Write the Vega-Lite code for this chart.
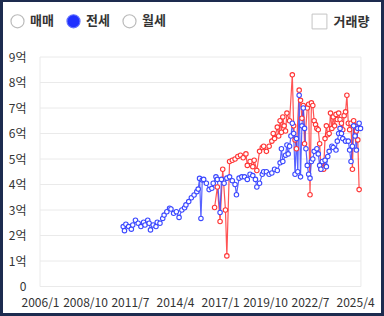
{
  "$schema": "https://vega.github.io/schema/vega-lite/v6.json",
  "width": 378,
  "height": 311,
  "autosize": "none",
  "padding": {"left": 3, "top": 2, "right": 3, "bottom": 3},
  "background": "#1d2b4f",
  "view": {"fill": "#ffffff", "stroke": null},
  "config": {"font": "Noto Sans CJK KR",
    "axisY": {"labelOverlap": false, "tickCount": 10},
    "axisX": {"labelOverlap": false}},
  "layer": [
    {
      "data": {"values": [{"g": 0}, {"g": 1}, {"g": 2}, {"g": 3}, {"g": 4}, {"g": 5}, {"g": 6}, {"g": 7}, {"g": 8}, {"g": 9}]},
      "mark": {"type": "rule", "color": "#eaeaea", "strokeWidth": 1},
      "encoding": {
        "y": {"field": "g", "type": "quantitative", "title": null,
          "scale": {"domain": [-1.039, 11.157], "nice": false, "zero": false},
          "axis": {"values": [0, 1, 2, 3, 4, 5, 6, 7, 8, 9], "labelExpr": "datum.value == 0 ? '0' : datum.value + '억'", "offset": -37, "domain": false, "ticks": false, "grid": false, "labelPadding": 14, "labelFontSize": 12, "labelColor": "#333333", "labelFont": "Noto Sans CJK KR", "labelOverlap": false, "labelBound": false}},
        "x": {"datum": {"year": 2006, "month": 1, "date": 1}, "type": "temporal", "title": null,
          "scale": {"type": "time", "domain": [{"year": 2003, "month": 9, "date": 28}, {"year": 2026, "month": 11, "date": 1}]},
          "axis": {"values": [{"year": 2006, "month": 1, "date": 1}, {"year": 2008, "month": 10, "date": 1}, {"year": 2011, "month": 7, "date": 1}, {"year": 2014, "month": 4, "date": 1}, {"year": 2017, "month": 1, "date": 1}, {"year": 2019, "month": 10, "date": 1}, {"year": 2022, "month": 7, "date": 1}, {"year": 2025, "month": 4, "date": 1}], "format": "%Y/%-m", "offset": -26.5, "domain": false, "ticks": false, "grid": false, "labelPadding": 11, "labelFontSize": 12, "labelColor": "#333333", "labelFont": "Noto Sans CJK KR", "labelOverlap": false, "labelFlush": false}},
        "x2": {"datum": {"year": 2025, "month": 8, "date": 10}}
      }
    },
    {
      "data": {"values": [{"e": "2006-01-01"}, {"e": "2025-08-10"}], "format": {"parse": {"e": "date:'%Y-%m-%d'"}}},
      "mark": {"type": "rule", "color": "#eaeaea", "strokeWidth": 1},
      "encoding": {
        "x": {"field": "e", "type": "temporal", "title": null},
        "y": {"datum": 0, "type": "quantitative", "title": null,
          "axis": {"values": [0, 1, 2, 3, 4, 5, 6, 7, 8, 9], "labelExpr": "datum.value == 0 ? '0' : datum.value + '억'", "offset": -37, "domain": false, "ticks": false, "grid": false, "labelPadding": 14, "labelFontSize": 12, "labelColor": "#333333", "labelFont": "Noto Sans CJK KR", "labelOverlap": false, "labelBound": false}},
        "y2": {"datum": 9}
      }
    },
    {
      "data": {"values": [
        {"d": "2016-09", "t": "매매", "v": 3.1},
        {"d": "2016-11", "t": "매매", "v": 3.9},
        {"d": "2017-01", "t": "매매", "v": 2.55},
        {"d": "2017-03", "t": "매매", "v": 4.6},
        {"d": "2017-05", "t": "매매", "v": 3.0},
        {"d": "2017-06", "t": "매매", "v": 1.2},
        {"d": "2017-08", "t": "매매", "v": 4.9},
        {"d": "2017-10", "t": "매매", "v": 4.95},
        {"d": "2017-12", "t": "매매", "v": 5.0},
        {"d": "2018-02", "t": "매매", "v": 5.1},
        {"d": "2018-04", "t": "매매", "v": 5.15},
        {"d": "2018-06", "t": "매매", "v": 5.05},
        {"d": "2018-08", "t": "매매", "v": 5.2},
        {"d": "2018-09", "t": "매매", "v": 4.75},
        {"d": "2018-11", "t": "매매", "v": 4.9},
        {"d": "2019-01", "t": "매매", "v": 4.7},
        {"d": "2019-02", "t": "매매", "v": 4.95},
        {"d": "2019-04", "t": "매매", "v": 4.55},
        {"d": "2019-06", "t": "매매", "v": 5.3},
        {"d": "2019-08", "t": "매매", "v": 5.45},
        {"d": "2019-09", "t": "매매", "v": 5.5},
        {"d": "2019-11", "t": "매매", "v": 5.3},
        {"d": "2020-01", "t": "매매", "v": 5.5},
        {"d": "2020-03", "t": "매매", "v": 5.7},
        {"d": "2020-04", "t": "매매", "v": 6.0},
        {"d": "2020-05", "t": "매매", "v": 5.8},
        {"d": "2020-07", "t": "매매", "v": 6.25},
        {"d": "2020-08", "t": "매매", "v": 5.9},
        {"d": "2020-09", "t": "매매", "v": 6.5},
        {"d": "2020-10", "t": "매매", "v": 6.05},
        {"d": "2020-11", "t": "매매", "v": 6.65},
        {"d": "2020-12", "t": "매매", "v": 6.3},
        {"d": "2021-01", "t": "매매", "v": 6.1},
        {"d": "2021-02", "t": "매매", "v": 6.8},
        {"d": "2021-04", "t": "매매", "v": 6.5},
        {"d": "2021-06", "t": "매매", "v": 8.3},
        {"d": "2021-07", "t": "매매", "v": 6.3},
        {"d": "2021-08", "t": "매매", "v": 5.75},
        {"d": "2021-09", "t": "매매", "v": 5.4},
        {"d": "2021-11", "t": "매매", "v": 7.7},
        {"d": "2021-12", "t": "매매", "v": 7.3},
        {"d": "2022-01", "t": "매매", "v": 6.6},
        {"d": "2022-02", "t": "매매", "v": 7.1},
        {"d": "2022-03", "t": "매매", "v": 5.6},
        {"d": "2022-05", "t": "매매", "v": 7.0},
        {"d": "2022-06", "t": "매매", "v": 7.15},
        {"d": "2022-07", "t": "매매", "v": 3.6},
        {"d": "2022-08", "t": "매매", "v": 7.2},
        {"d": "2022-09", "t": "매매", "v": 7.1},
        {"d": "2022-10", "t": "매매", "v": 6.5},
        {"d": "2022-11", "t": "매매", "v": 6.35},
        {"d": "2022-12", "t": "매매", "v": 6.2},
        {"d": "2023-01", "t": "매매", "v": 6.15},
        {"d": "2023-02", "t": "매매", "v": 5.6},
        {"d": "2023-03", "t": "매매", "v": 4.6},
        {"d": "2023-04", "t": "매매", "v": 4.85},
        {"d": "2023-05", "t": "매매", "v": 4.6},
        {"d": "2023-06", "t": "매매", "v": 5.8},
        {"d": "2023-07", "t": "매매", "v": 6.3},
        {"d": "2023-08", "t": "매매", "v": 5.95},
        {"d": "2023-09", "t": "매매", "v": 6.0},
        {"d": "2023-10", "t": "매매", "v": 6.8},
        {"d": "2023-11", "t": "매매", "v": 6.2},
        {"d": "2023-12", "t": "매매", "v": 6.65},
        {"d": "2024-01", "t": "매매", "v": 6.3},
        {"d": "2024-02", "t": "매매", "v": 6.75},
        {"d": "2024-03", "t": "매매", "v": 6.55},
        {"d": "2024-04", "t": "매매", "v": 6.8},
        {"d": "2024-05", "t": "매매", "v": 6.55},
        {"d": "2024-06", "t": "매매", "v": 6.4},
        {"d": "2024-07", "t": "매매", "v": 6.15},
        {"d": "2024-08", "t": "매매", "v": 6.7},
        {"d": "2024-09", "t": "매매", "v": 6.85},
        {"d": "2024-10", "t": "매매", "v": 7.5},
        {"d": "2024-11", "t": "매매", "v": 6.4},
        {"d": "2024-12", "t": "매매", "v": 6.15},
        {"d": "2025-01", "t": "매매", "v": 6.4},
        {"d": "2025-02", "t": "매매", "v": 4.6},
        {"d": "2025-03", "t": "매매", "v": 6.5},
        {"d": "2025-04", "t": "매매", "v": 6.3},
        {"d": "2025-05", "t": "매매", "v": 6.1},
        {"d": "2025-06", "t": "매매", "v": 5.75},
        {"d": "2025-07", "t": "매매", "v": 3.8},
        {"d": "2011-02", "t": "전세", "v": 2.35},
        {"d": "2011-03", "t": "전세", "v": 2.19},
        {"d": "2011-04", "t": "전세", "v": 2.44},
        {"d": "2011-06", "t": "전세", "v": 2.35},
        {"d": "2011-08", "t": "전세", "v": 2.25},
        {"d": "2011-09", "t": "전세", "v": 2.41},
        {"d": "2011-11", "t": "전세", "v": 2.6},
        {"d": "2012-01", "t": "전세", "v": 2.48},
        {"d": "2012-03", "t": "전세", "v": 2.35},
        {"d": "2012-05", "t": "전세", "v": 2.52},
        {"d": "2012-06", "t": "전세", "v": 2.41},
        {"d": "2012-08", "t": "전세", "v": 2.6},
        {"d": "2012-09", "t": "전세", "v": 2.48},
        {"d": "2012-10", "t": "전세", "v": 2.22},
        {"d": "2012-12", "t": "전세", "v": 2.41},
        {"d": "2013-02", "t": "전세", "v": 2.35},
        {"d": "2013-03", "t": "전세", "v": 2.52},
        {"d": "2013-05", "t": "전세", "v": 2.48},
        {"d": "2013-07", "t": "전세", "v": 2.67},
        {"d": "2013-08", "t": "전세", "v": 2.8},
        {"d": "2013-10", "t": "전세", "v": 2.93},
        {"d": "2013-12", "t": "전세", "v": 3.07},
        {"d": "2014-01", "t": "전세", "v": 3.04},
        {"d": "2014-03", "t": "전세", "v": 2.87},
        {"d": "2014-05", "t": "전세", "v": 2.93},
        {"d": "2014-07", "t": "전세", "v": 2.71},
        {"d": "2014-09", "t": "전세", "v": 3.0},
        {"d": "2014-11", "t": "전세", "v": 3.09},
        {"d": "2014-12", "t": "전세", "v": 3.2},
        {"d": "2015-02", "t": "전세", "v": 3.33},
        {"d": "2015-04", "t": "전세", "v": 3.48},
        {"d": "2015-06", "t": "전세", "v": 3.59},
        {"d": "2015-08", "t": "전세", "v": 3.72},
        {"d": "2015-09", "t": "전세", "v": 3.82},
        {"d": "2015-10", "t": "전세", "v": 4.24},
        {"d": "2015-11", "t": "전세", "v": 2.67},
        {"d": "2015-12", "t": "전세", "v": 4.18},
        {"d": "2016-01", "t": "전세", "v": 4.2},
        {"d": "2016-03", "t": "전세", "v": 4.05},
        {"d": "2016-05", "t": "전세", "v": 3.8},
        {"d": "2016-07", "t": "전세", "v": 3.85},
        {"d": "2016-08", "t": "전세", "v": 4.05},
        {"d": "2016-10", "t": "전세", "v": 4.3},
        {"d": "2016-11", "t": "전세", "v": 4.2},
        {"d": "2017-01", "t": "전세", "v": 2.9},
        {"d": "2017-02", "t": "전세", "v": 4.2},
        {"d": "2017-04", "t": "전세", "v": 4.05},
        {"d": "2017-06", "t": "전세", "v": 4.25},
        {"d": "2017-08", "t": "전세", "v": 4.3},
        {"d": "2017-10", "t": "전세", "v": 4.15},
        {"d": "2017-12", "t": "전세", "v": 4.0},
        {"d": "2018-01", "t": "전세", "v": 3.6},
        {"d": "2018-03", "t": "전세", "v": 4.25},
        {"d": "2018-05", "t": "전세", "v": 4.3},
        {"d": "2018-07", "t": "전세", "v": 4.3},
        {"d": "2018-09", "t": "전세", "v": 4.2},
        {"d": "2018-11", "t": "전세", "v": 4.4},
        {"d": "2019-01", "t": "전세", "v": 4.35},
        {"d": "2019-03", "t": "전세", "v": 4.2},
        {"d": "2019-04", "t": "전세", "v": 3.9},
        {"d": "2019-06", "t": "전세", "v": 4.05},
        {"d": "2019-08", "t": "전세", "v": 4.4},
        {"d": "2019-09", "t": "전세", "v": 4.5},
        {"d": "2019-11", "t": "전세", "v": 4.5},
        {"d": "2020-01", "t": "전세", "v": 4.4},
        {"d": "2020-03", "t": "전세", "v": 4.45},
        {"d": "2020-05", "t": "전세", "v": 4.6},
        {"d": "2020-07", "t": "전세", "v": 4.55},
        {"d": "2020-09", "t": "전세", "v": 4.85},
        {"d": "2020-10", "t": "전세", "v": 5.4},
        {"d": "2020-11", "t": "전세", "v": 4.9},
        {"d": "2021-01", "t": "전세", "v": 5.15},
        {"d": "2021-02", "t": "전세", "v": 5.55},
        {"d": "2021-03", "t": "전세", "v": 5.2},
        {"d": "2021-04", "t": "전세", "v": 5.5},
        {"d": "2021-05", "t": "전세", "v": 5.9},
        {"d": "2021-06", "t": "전세", "v": 6.4},
        {"d": "2021-07", "t": "전세", "v": 6.0},
        {"d": "2021-08", "t": "전세", "v": 4.4},
        {"d": "2021-09", "t": "전세", "v": 5.8},
        {"d": "2021-10", "t": "전세", "v": 4.5},
        {"d": "2021-11", "t": "전세", "v": 7.5},
        {"d": "2021-12", "t": "전세", "v": 4.3},
        {"d": "2022-01", "t": "전세", "v": 6.3},
        {"d": "2022-02", "t": "전세", "v": 7.0},
        {"d": "2022-03", "t": "전세", "v": 6.2},
        {"d": "2022-04", "t": "전세", "v": 5.4},
        {"d": "2022-05", "t": "전세", "v": 4.75},
        {"d": "2022-06", "t": "전세", "v": 4.4},
        {"d": "2022-07", "t": "전세", "v": 4.25},
        {"d": "2022-08", "t": "전세", "v": 4.9},
        {"d": "2022-09", "t": "전세", "v": 5.0},
        {"d": "2022-10", "t": "전세", "v": 5.3},
        {"d": "2022-12", "t": "전세", "v": 5.4},
        {"d": "2023-01", "t": "전세", "v": 5.2},
        {"d": "2023-02", "t": "전세", "v": 4.75},
        {"d": "2023-03", "t": "전세", "v": 4.6},
        {"d": "2023-04", "t": "전세", "v": 4.9},
        {"d": "2023-06", "t": "전세", "v": 4.95},
        {"d": "2023-07", "t": "전세", "v": 4.7},
        {"d": "2023-08", "t": "전세", "v": 5.1},
        {"d": "2023-09", "t": "전세", "v": 5.3},
        {"d": "2023-11", "t": "전세", "v": 5.5},
        {"d": "2023-12", "t": "전세", "v": 5.45},
        {"d": "2024-02", "t": "전세", "v": 5.35},
        {"d": "2024-03", "t": "전세", "v": 5.7},
        {"d": "2024-04", "t": "전세", "v": 6.0},
        {"d": "2024-05", "t": "전세", "v": 6.2},
        {"d": "2024-06", "t": "전세", "v": 6.0},
        {"d": "2024-07", "t": "전세", "v": 5.8},
        {"d": "2024-09", "t": "전세", "v": 5.7},
        {"d": "2024-11", "t": "전세", "v": 5.7},
        {"d": "2024-12", "t": "전세", "v": 5.35},
        {"d": "2025-01", "t": "전세", "v": 4.9},
        {"d": "2025-02", "t": "전세", "v": 5.5},
        {"d": "2025-03", "t": "전세", "v": 6.3},
        {"d": "2025-04", "t": "전세", "v": 5.9},
        {"d": "2025-05", "t": "전세", "v": 5.35},
        {"d": "2025-06", "t": "전세", "v": 6.2},
        {"d": "2025-07", "t": "전세", "v": 6.4},
        {"d": "2025-08", "t": "전세", "v": 6.2}
      ], "format": {"parse": {"d": "date:'%Y-%m'"}}},
      "mark": {"type": "line", "strokeWidth": 1.2, "opacity": 0.85,
        "point": {"filled": false, "fill": "white", "size": 20, "strokeWidth": 1.1}},
      "encoding": {
        "x": {"field": "d", "type": "temporal", "title": null},
        "y": {"field": "v", "type": "quantitative", "title": null,
          "axis": {"values": [0, 1, 2, 3, 4, 5, 6, 7, 8, 9], "labelExpr": "datum.value == 0 ? '0' : datum.value + '억'", "offset": -37, "domain": false, "ticks": false, "grid": false, "labelPadding": 14, "labelFontSize": 12, "labelColor": "#333333", "labelFont": "Noto Sans CJK KR", "labelOverlap": false, "labelBound": false}},
        "color": {"field": "t", "type": "nominal", "title": null,
          "scale": {"domain": ["매매", "전세"], "range": ["#ff3535", "#3b48ff"]},
          "legend": null}
      }
    },
    {
      "data": {"values": [{"r": "매매"}, {"r": "전세"}, {"r": "월세"}]},
      "mark": {"type": "point", "opacity": 0, "filled": true},
      "encoding": {
        "fill": {"field": "r", "type": "nominal", "title": null,
          "scale": {"domain": ["매매", "전세", "월세"], "range": ["#ffffff", "#1f30ff", "#ffffff"]},
          "legend": {"orient": "none", "legendX": 7, "legendY": 11.5, "direction": "horizontal", "title": null,
            "symbolType": "circle", "symbolSize": 170, "symbolStrokeWidth": 1.2, "symbolOpacity": 1, "symbolStrokeColor": "#bbbbbb",
            "labelFont": "Noto Sans CJK KR", "labelFontSize": 13, "labelFontWeight": "bold", "labelColor": "#333333",
            "labelOffset": 5, "columnPadding": 10, "padding": 0,
            "encode": {"symbols": {"update": {
              "stroke": {"signal": "datum.value === '전세' ? '#6070ff' : '#bbbbbb'"},
              "opacity": {"value": 1}}}}}}
      }
    },
    {
      "data": {"values": [{"k": "거래량"}]},
      "mark": {"type": "point", "opacity": 0},
      "encoding": {
        "shape": {"field": "k", "type": "nominal", "title": null,
          "scale": {"domain": ["거래량"], "range": ["square"]},
          "legend": {"orient": "none", "legendX": 308.5, "legendY": 11.5, "title": null, "padding": 0,
            "symbolSize": 220, "symbolFillColor": "#ffffff", "symbolStrokeColor": "#c4c4c4", "symbolStrokeWidth": 1, "symbolOpacity": 1,
            "labelFont": "Noto Sans CJK KR", "labelFontSize": 13, "labelFontWeight": "bold", "labelColor": "#333333", "labelOffset": 6,
            "encode": {"symbols": {"update": {"opacity": {"value": 1}, "fill": {"value": "#ffffff"}, "stroke": {"value": "#c4c4c4"}}}}}}
      }
    }
  ]
}
